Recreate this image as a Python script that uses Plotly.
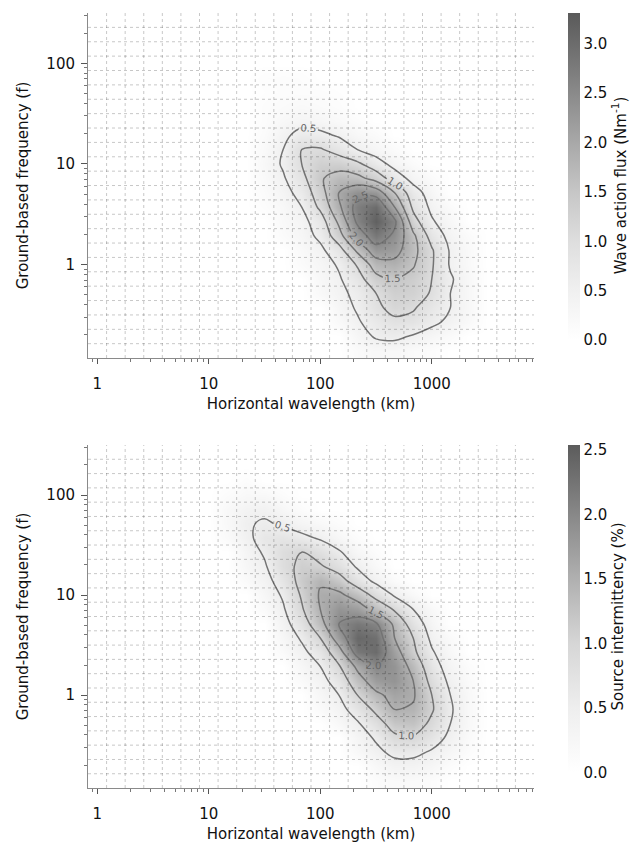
import math
import plotly.graph_objects as go

# ---------------- data ----------------
# bin centres of the 2-D histograms
wavelength_km = [1.0, 1.468, 2.154, 3.162, 4.642, 6.813, 10.0, 14.68, 21.54, 31.62, 46.42, 68.13,
                 100.0, 146.8, 215.4, 316.2, 464.2, 681.3, 1000.0, 1468.0, 2154.0, 3162.0, 4642.0, 6813.0]
frequency_f = [0.139, 0.193, 0.268, 0.373, 0.518, 0.720, 1.0, 1.389, 1.931, 2.683, 3.728, 5.179,
               7.197, 10.0, 13.89, 19.31, 26.83, 37.28, 51.79, 71.97, 100.0, 138.9, 193.1, 268.3]

# columns 7..20 of the wavelength bins carry non-zero values (others are zero)
first_col = 7

# Wave action flux (N m^-1); one row per frequency bin (bottom -> top)
flux_rows = [
    [0, 0, 0, 0, 0, 0, 0, 0.15, 0.25, 0.25, 0.15, 0.1, 0, 0],
    [0, 0, 0, 0, 0, 0, 0, 0.3, 0.55, 0.6, 0.45, 0.3, 0.15, 0],
    [0, 0, 0, 0, 0, 0, 0.2, 0.45, 0.7, 0.9, 0.85, 0.6, 0.4, 0.2],
    [0, 0, 0, 0, 0, 0, 0.3, 0.55, 0.9, 1.15, 1.05, 0.75, 0.5, 0.25],
    [0, 0, 0, 0, 0, 0.2, 0.4, 0.6, 1.0, 1.3, 1.25, 0.95, 0.5, 0.25],
    [0, 0, 0, 0, 0, 0.25, 0.45, 0.8, 1.35, 1.5, 1.35, 1.0, 0.55, 0.25],
    [0, 0, 0, 0, 0.15, 0.3, 0.55, 1.05, 1.75, 1.85, 1.55, 1.05, 0.45, 0.2],
    [0, 0, 0, 0, 0.2, 0.4, 0.8, 1.6, 2.3, 2.2, 1.65, 1.05, 0.45, 0.2],
    [0, 0, 0, 0.15, 0.3, 0.6, 1.3, 2.2, 2.8, 2.4, 1.6, 0.8, 0.35, 0.15],
    [0, 0, 0, 0.2, 0.35, 0.75, 1.6, 2.6, 3.2, 2.6, 1.2, 0.55, 0.25, 0],
    [0, 0, 0.1, 0.25, 0.5, 1.1, 1.9, 2.7, 3.0, 2.0, 0.9, 0.4, 0.15, 0],
    [0, 0, 0.15, 0.35, 0.65, 1.3, 2.0, 2.4, 2.3, 1.5, 0.7, 0.3, 0, 0],
    [0, 0, 0.2, 0.45, 0.85, 1.45, 1.7, 1.65, 1.3, 0.75, 0.35, 0.15, 0, 0],
    [0, 0, 0.25, 0.55, 1.0, 1.3, 1.3, 1.1, 0.7, 0.35, 0.15, 0, 0, 0],
    [0, 0, 0.2, 0.5, 1.0, 1.05, 0.8, 0.5, 0.3, 0.15, 0, 0, 0, 0],
    [0, 0, 0.15, 0.4, 0.65, 0.6, 0.45, 0.25, 0.15, 0, 0, 0, 0, 0],
    [0, 0, 0.1, 0.25, 0.35, 0.3, 0.2, 0.1, 0, 0, 0, 0, 0, 0],
    [0, 0, 0.1, 0.15, 0.2, 0.15, 0.1, 0, 0, 0, 0, 0, 0, 0],
    [0, 0, 0.05, 0.1, 0.1, 0.1, 0.05, 0, 0, 0, 0, 0, 0, 0],
    [0, 0, 0.08, 0.1, 0.08, 0, 0, 0, 0, 0, 0, 0, 0, 0],
    [0] * 14,
    [0] * 14,
    [0] * 14,
    [0] * 14,
]

# Source intermittency (%)
intermittency_rows = [
    [0, 0, 0, 0, 0, 0, 0, 0, 0.1, 0.15, 0.15, 0.1, 0, 0],
    [0, 0, 0, 0, 0, 0, 0, 0, 0.2, 0.35, 0.35, 0.25, 0.1, 0],
    [0, 0, 0, 0, 0, 0, 0, 0.2, 0.4, 0.6, 0.6, 0.45, 0.25, 0.1],
    [0, 0, 0, 0, 0, 0, 0, 0.3, 0.55, 0.9, 0.95, 0.7, 0.4, 0.15],
    [0, 0, 0, 0, 0, 0, 0.2, 0.45, 0.8, 1.2, 1.25, 0.9, 0.5, 0.2],
    [0, 0, 0, 0, 0, 0.15, 0.35, 0.7, 1.1, 1.5, 1.45, 1.05, 0.55, 0.2],
    [0, 0, 0, 0, 0, 0.25, 0.5, 1.0, 1.4, 1.65, 1.55, 1.0, 0.5, 0.2],
    [0, 0, 0, 0, 0.15, 0.35, 0.7, 1.3, 1.75, 1.85, 1.5, 0.85, 0.4, 0.15],
    [0, 0, 0, 0, 0.25, 0.5, 0.95, 1.6, 2.0, 1.85, 1.35, 0.7, 0.3, 0.1],
    [0, 0, 0, 0.15, 0.4, 0.7, 1.3, 2.2, 2.35, 1.7, 1.1, 0.55, 0.2, 0],
    [0, 0, 0, 0.25, 0.55, 1.0, 1.75, 2.4, 2.3, 1.5, 1.0, 0.4, 0.15, 0],
    [0, 0, 0, 0.35, 0.75, 1.35, 2.0, 2.2, 2.05, 1.4, 0.75, 0.3, 0, 0],
    [0, 0, 0.15, 0.45, 0.95, 1.5, 1.85, 1.75, 1.35, 0.95, 0.5, 0.2, 0, 0],
    [0, 0, 0.25, 0.55, 1.05, 1.55, 1.6, 1.3, 0.85, 0.45, 0.2, 0, 0, 0],
    [0, 0.15, 0.35, 0.7, 1.15, 1.45, 1.2, 0.75, 0.4, 0.15, 0, 0, 0, 0],
    [0, 0.25, 0.45, 0.85, 1.1, 1.05, 0.8, 0.45, 0.2, 0, 0, 0, 0, 0],
    [0, 0.3, 0.55, 0.85, 1.0, 0.8, 0.55, 0.25, 0.1, 0, 0, 0, 0, 0],
    [0.15, 0.4, 0.65, 0.7, 0.6, 0.45, 0.25, 0.1, 0, 0, 0, 0, 0, 0],
    [0.2, 0.45, 0.55, 0.45, 0.3, 0.2, 0.1, 0, 0, 0, 0, 0, 0, 0],
    [0.2, 0.35, 0.4, 0.25, 0.1, 0, 0, 0, 0, 0, 0, 0, 0, 0],
    [0.1, 0.2, 0.2, 0.1, 0, 0, 0, 0, 0, 0, 0, 0, 0, 0],
    [0, 0.1, 0, 0, 0, 0, 0, 0, 0, 0, 0, 0, 0, 0],
    [0] * 14,
    [0] * 14,
]

x_tick_vals = [1, 10, 100, 1000]
y_tick_vals = [1, 10, 100]
flux_ticks = [0.0, 0.5, 1.0, 1.5, 2.0, 2.5, 3.0]
interm_ticks = [0.0, 0.5, 1.0, 1.5, 2.0, 2.5]


# ---------------- helpers ----------------
def full_grid(rows):
    n = len(wavelength_km)
    out = []
    for r in rows:
        row = [0.0] * n
        for k, v in enumerate(r):
            row[first_col + k] = v
        out.append(row)
    return out


def log_edges(c):
    e = [c[0] / math.sqrt(c[1] / c[0])]
    for a, b in zip(c[:-1], c[1:]):
        e.append(math.sqrt(a * b))
    e.append(c[-1] * math.sqrt(c[-1] / c[-2]))
    return e


def log_minor(lo, hi):
    vals = []
    d = 10.0 ** math.floor(math.log10(lo))
    while d <= hi:
        for m in range(2, 10):
            v = m * d
            if lo <= v <= hi:
                vals.append(v)
        d *= 10
    return vals


x_edges = log_edges(wavelength_km)
y_edges = log_edges(frequency_f)
flux = full_grid(flux_rows)
interm = full_grid(intermittency_rows)

FONT = "DejaVu Sans"
GRID = "rgba(0,0,0,0.22)"
AXC = "#8a8a8a"

flux_min, flux_max = -0.18, 3.31
int_min, int_max = -0.12, 2.54


def scale(stops, zmin, zmax):
    return [[(z - zmin) / (zmax - zmin), c] for z, c in stops]


flux_scale = [[0, "#ffffff"]] + scale(
    [(0.0, "#ffffff"), (0.5, "#f0f0f0"), (1.0, "#dedede"), (1.5, "#c6c6c6"),
     (2.0, "#a8a8a8"), (2.5, "#8a8a8a"), (3.0, "#6c6c6c")], flux_min, flux_max) + [[1, "#5a5a5a"]]
int_scale = [[0, "#ffffff"]] + scale(
    [(0.0, "#ffffff"), (0.5, "#eeeeee"), (1.0, "#d6d6d6"), (1.5, "#b0b0b0"),
     (2.0, "#888888")], int_min, int_max) + [[1, "#5c5c5c"]]

top_dom = [0.5548, 1.0]
bot_dom = [0.0, 0.4426]

fig = go.Figure()


def add_panel(z, xa, ya, zmin, zmax, cscale, ticks, title, dom, levels_end):
    fig.add_trace(go.Heatmap(
        x=x_edges, y=y_edges, z=z, xaxis=xa, yaxis=ya, zmin=zmin, zmax=zmax,
        colorscale=cscale, zsmooth="best", hoverinfo="skip",
        colorbar=dict(
            x=1.0756, xanchor="left", y=dom[1], yanchor="top",
            len=dom[1] - dom[0], lenmode="fraction", thickness=12,
            outlinewidth=0, ticks="", tickvals=ticks, ticktext=[f"{t:.1f}" for t in ticks],
            tickfont=dict(family=FONT, size=15, color="#111"), xpad=0, ypad=0,
            title=dict(text=title, side="right", font=dict(family=FONT, size=15, color="#111")),
        ),
    ))
    fig.add_trace(go.Contour(
        x=wavelength_km, y=frequency_f, z=z, xaxis=xa, yaxis=ya, showscale=False,
        contours=dict(start=0.5, end=levels_end, size=0.5, coloring="none",
                      showlabels=True, labelformat=".1f",
                      labelfont=dict(family=FONT, size=10, color="#666666")),
        line=dict(color="#737373", width=1.5), hoverinfo="skip",
    ))
    # dotted grid at the histogram bin edges, drawn over the shading
    for xe in x_edges[1:-1]:
        fig.add_shape(type="line", xref=xa, yref=ya + " domain", x0=xe, x1=xe, y0=0, y1=1,
                      line=dict(color=GRID, width=1, dash="dot"), layer="above")
    for ye in y_edges[1:-1]:
        fig.add_shape(type="line", xref=xa + " domain", yref=ya, x0=0, x1=1, y0=ye, y1=ye,
                      line=dict(color=GRID, width=1, dash="dot"), layer="above")


add_panel(flux, "x", "y", flux_min, flux_max, flux_scale, flux_ticks,
          "Wave action flux (Nm<sup>-1</sup>)", top_dom, 2.5)
add_panel(interm, "x2", "y2", int_min, int_max, int_scale, interm_ticks,
          "Source intermittency (%)", bot_dom, 2.0)

xr = [math.log10(x_edges[0]), math.log10(x_edges[-1])]
yr = [math.log10(y_edges[0]), math.log10(y_edges[-1])]


def xaxis(anchor):
    return dict(
        type="log", range=xr, anchor=anchor, domain=[0, 1],
        tickvals=x_tick_vals, ticktext=[str(v) for v in x_tick_vals],
        ticks="outside", ticklen=5, tickcolor="#555", showgrid=False,
        showline=True, linecolor=AXC, linewidth=1, zeroline=False,
        tickfont=dict(family=FONT, size=15, color="#111"), ticklabelstandoff=7,
        minor=dict(tickmode="array", tickvals=log_minor(x_edges[0], x_edges[-1]),
                   ticks="outside", ticklen=3, tickcolor="#777", showgrid=False),
        title=dict(text="Horizontal wavelength (km)", standoff=6,
                   font=dict(family=FONT, size=15, color="#111")),
        automargin=False,
    )


def yaxis(anchor, dom):
    return dict(
        type="log", range=yr, anchor=anchor, domain=dom,
        tickvals=y_tick_vals, ticktext=[str(v) for v in y_tick_vals],
        ticks="outside", ticklen=6, tickcolor="#555", showgrid=False,
        showline=True, linecolor=AXC, linewidth=1, zeroline=False,
        tickfont=dict(family=FONT, size=15, color="#111"), ticklabelstandoff=3,
        minor=dict(tickmode="array", tickvals=log_minor(y_edges[0], y_edges[-1]),
                   ticks="outside", ticklen=3, tickcolor="#777", showgrid=False),
        title=dict(text="Ground-based frequency (f)", standoff=14,
                   font=dict(family=FONT, size=15, color="#111")),
        automargin=False,
    )


fig.update_layout(
    width=641, height=846,
    margin=dict(l=88, r=103, t=13, b=58),
    paper_bgcolor="white", plot_bgcolor="white",
    showlegend=False,
    font=dict(family=FONT, size=15, color="#111"),
    xaxis=xaxis("y"), yaxis=yaxis("x", top_dom),
    xaxis2=xaxis("y2"), yaxis2=yaxis("x2", bot_dom),
)

fig.write_html("out.html")
